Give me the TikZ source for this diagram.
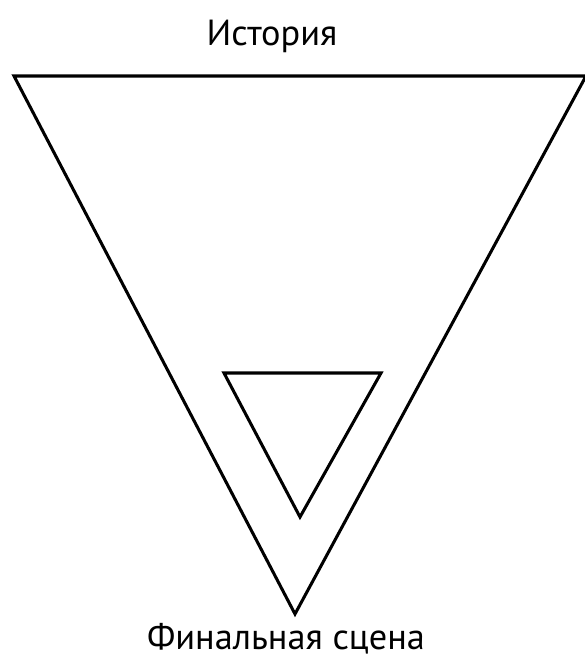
\documentclass[tikz,border=0pt]{standalone}
\usepackage{fontspec}
\setmainfont{PT Sans}
\begin{document}
\begin{tikzpicture}[
    x=0.03cm, y=-0.03cm,
    label/.style={font=\fontsize{31}{37}\selectfont, inner sep=0pt},
    edge/.style={line width=2.6pt, line join=miter}
]
\useasboundingbox (0,0) rectangle (585,663);

% Outer triangle
\coordinate (tl) at (14,76);
\coordinate (tr) at (586,76);
\coordinate (bot) at (295,614);
\draw[edge] (tl) -- (tr) -- (bot) -- cycle;

% Inner triangle
\coordinate (itl) at (224,373);
\coordinate (itr) at (381,373);
\coordinate (ibot) at (300,517);
\draw[edge] (itl) -- (itr) -- (ibot) -- cycle;

% Labels
\node[label, anchor=base] (story) at (272,45) {История};
\node[label, anchor=base] (final) at (286,649) {Финальная сцена};

\end{tikzpicture}
\end{document}
